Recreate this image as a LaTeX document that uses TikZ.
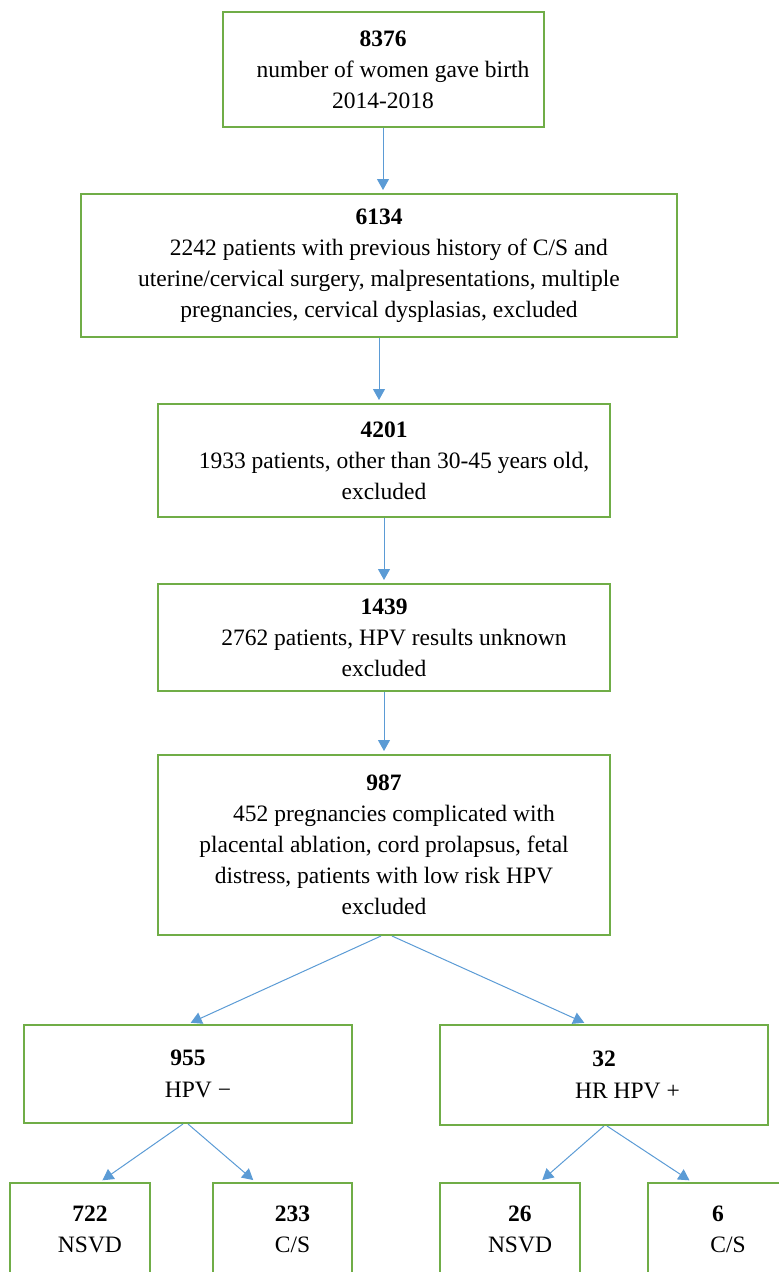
\documentclass[tikz,border=0pt]{standalone}
\usepackage{fontspec}
\setmainfont{Liberation Serif}
\usepackage{xcolor}
\usetikzlibrary{arrows.meta,calc,positioning}
\definecolor{boxgreen}{RGB}{112,173,71}
\definecolor{arrowblue}{RGB}{91,155,213}
\newcommand{\ind}[1][0.85em]{\hspace*{#1}}
\tikzset{
  box/.style={draw=boxgreen, line width=2pt, align=center, inner sep=0pt, text centered, font=\fontsize{23.5}{31}\selectfont},
  leaf/.style={box, minimum width=140pt, minimum height=92pt},
  flow/.style={draw=arrowblue, line width=1pt, -{Triangle[length=11pt,width=12pt]}, shorten >=3pt}
}
\begin{document}
\begin{tikzpicture}[x=1pt, y=-1pt]
  \useasboundingbox (0,0) rectangle (779,1272);
  \node[box, minimum width=321pt, minimum height=115pt] (n8376) at (383,69.5) {\textbf{8376}\\\ind number of women gave birth\\2014-2018};
  \node[box, minimum width=596pt, minimum height=143pt] (n6134) at (379,265.5) {\textbf{6134}\\\ind 2242 patients with previous history of C/S and\\uterine/cervical surgery, malpresentations, multiple\\pregnancies, cervical dysplasias, excluded};
  \node[box, minimum width=452pt, minimum height=113pt] (n4201) at (384,460.5) {\textbf{4201}\\\ind 1933 patients, other than 30-45 years old,\\excluded};
  \node[box, minimum width=452pt, minimum height=107pt] (n1439) at (384,637.5) {\textbf{1439}\\\ind 2762 patients, HPV results unknown\\excluded};
  \node[box, minimum width=452pt, minimum height=180pt] (n987) at (384,845) {\textbf{987}\\\ind 452 pregnancies complicated with\\placental ablation, cord prolapsus, fetal\\distress, patients with low risk HPV\\excluded};
  \node[box, minimum width=328pt, minimum height=98pt, font=\fontsize{23.5}{32}\selectfont] (n955) at (188,1074) {\textbf{955}\\\ind HPV −};
  \node[box, minimum width=328pt, minimum height=100pt, font=\fontsize{23.5}{32}\selectfont] (n32) at (604,1075) {\textbf{32}\\\ind[2em]HR HPV +};
  \node[leaf] (n722) at (80,1229) {\ind\textbf{722}\\\ind NSVD};
  \node[leaf, minimum width=139pt] (n233) at (282.5,1229) {\ind\textbf{233}\\\ind C/S};
  \node[leaf] (n26) at (510,1229) {\ind\textbf{26}\\\ind NSVD};
  \node[leaf] (n6) at (718,1229) {\textbf{6}\\\ind C/S};

  \draw[flow] (n8376.south) -- (n8376.south |- n6134.north);
  \draw[flow] (n6134.south) -- (n6134.south |- n4201.north);
  \draw[flow] (n4201.south) -- (n4201.south |- n1439.north);
  \draw[flow] (n1439.south) -- (n1439.south |- n987.north);
  \draw[flow] ($(n987.south)+(-3,0)$) -- (n955.north);
  \draw[flow] ($(n987.south)+(8,0)$) -- ($(n32.north)+(-17,0)$);
  \draw[flow] ($(n955.south)+(-5,0)$) -- ($(n722.north)+(20,0)$);
  \draw[flow] (n955.south) -- ($(n233.north)+(-27,0)$);
  \draw[flow] (n32.south) -- ($(n26.north)+(30,0)$);
  \draw[flow] ($(n32.south)+(3,0)$) -- ($(n6.north)+(-26,0)$);
\end{tikzpicture}
\end{document}
